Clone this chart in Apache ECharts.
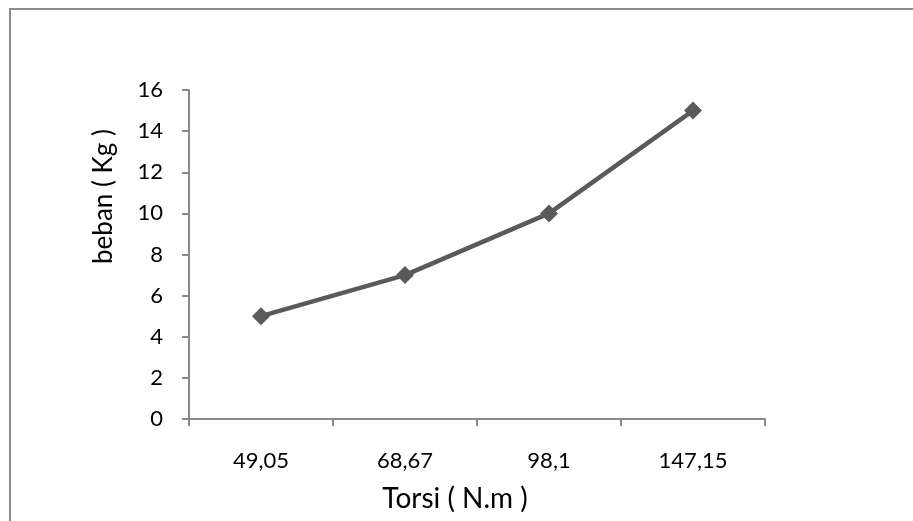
<!DOCTYPE html>
<html lang="en">
<head>
  <meta charset="UTF-8">
  <title>beban vs torsi</title>
  <style>
    html, body { margin: 0; padding: 0; background: #fff; }
    #main { width: 913px; height: 521px; }
  </style>
</head>
<body>
<div id="main"></div>
<script src="https://cdn.jsdelivr.net/npm/echarts@6/dist/echarts.min.js"></script>
<script>
  var torsi = ['49,05', '68,67', '98,1', '147,15'];
  var beban = [5, 7, 10, 15];

  var myChart = echarts.init(document.getElementById('main'));
  var font = 'Lato, "Open Sans", sans-serif';

  var option = {
    animation: false,
    graphic: [{
      type: 'rect',
      shape: { x: 10, y: 9, width: 1000, height: 600 },
      style: { fill: 'none', stroke: '#8c8c8c', lineWidth: 2 },
      silent: true
    }],
    grid: { left: 189, right: 148, top: 90, bottom: 102 },
    xAxis: {
      type: 'category',
      data: torsi,
      boundaryGap: true,
      name: 'Torsi ( N.m )',
      nameLocation: 'middle',
      nameGap: 66,
      nameTextStyle: { fontFamily: font, fontSize: 28, color: '#000', padding: [0, 44, 0, 0] },
      axisLine: { lineStyle: { color: '#888', width: 2 } },
      axisTick: { show: true, length: 7, lineStyle: { color: '#888', width: 2 } },
      axisLabel: { fontFamily: font, fontSize: 22, color: '#000', margin: 31 },
      splitLine: { show: false }
    },
    yAxis: {
      type: 'value',
      min: 0,
      max: 16,
      interval: 2,
      name: 'beban ( Kg )',
      nameLocation: 'middle',
      nameGap: 72,
      nameTextStyle: { fontFamily: font, fontSize: 26, color: '#000', padding: [0, 0, 0, 116] },
      axisLine: { show: true, lineStyle: { color: '#888', width: 2 } },
      axisTick: { show: true, length: 7, lineStyle: { color: '#888', width: 2 } },
      axisLabel: { fontFamily: font, fontSize: 22, color: '#000', margin: 26 },
      splitLine: { show: false }
    },
    series: [{
      type: 'line',
      data: beban,
      symbol: 'diamond',
      symbolSize: 18,
      lineStyle: { color: '#5a5a5a', width: 4.5 },
      itemStyle: { color: '#5a5a5a' }
    }]
  };

  myChart.setOption(option);
</script>
</body>
</html>
